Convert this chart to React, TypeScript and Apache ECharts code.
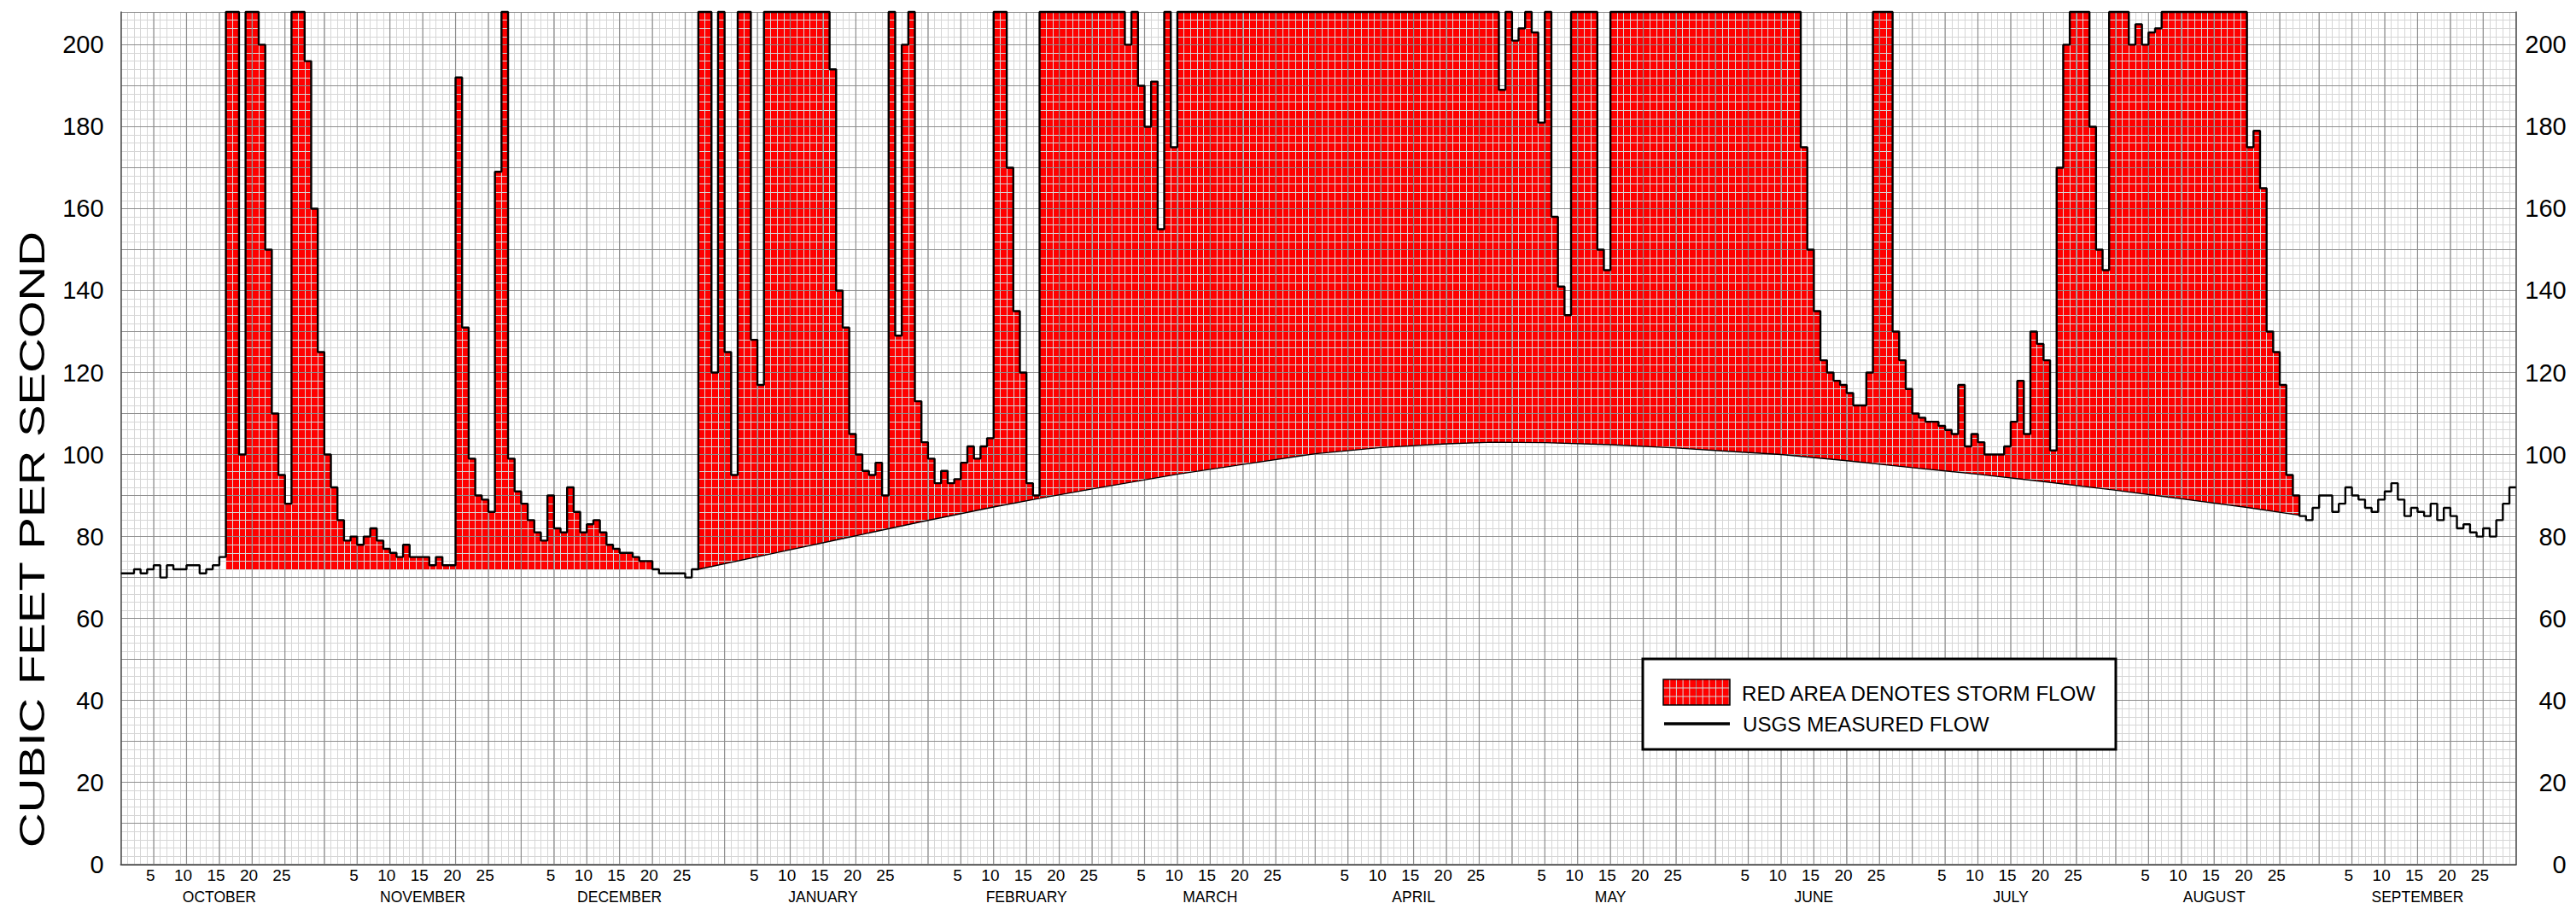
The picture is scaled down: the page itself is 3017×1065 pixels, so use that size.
import React, { useEffect, useRef } from "react";
import * as echarts from "echarts";

// Daily flow above this value runs off the top of the scale.
const OFF = 240;

const MONTH_NAMES = [
  "OCTOBER", "NOVEMBER", "DECEMBER", "JANUARY", "FEBRUARY", "MARCH",
  "APRIL", "MAY", "JUNE", "JULY", "AUGUST", "SEPTEMBER",
];
const MONTH_DAYS = [31, 30, 31, 31, 28, 31, 30, 31, 30, 31, 31, 30];
const DAY_TICKS = [5, 10, 15, 20, 25];
const Y_MAX = 208;

// Daily mean flow, cubic feet per second (water year, Oct 1 – Sep 30)
const OCT_FLOW = [71, 71, 72, 71, 72, 73, 70, 73, 72, 72, 73, 73, 71, 72, 73, 75, OFF, OFF, 100, OFF, OFF, 200, 150, 110, 95, 88, OFF, OFF, 196, 160, 125];
const NOV_FLOW = [100, 92, 84, 79, 80, 78, 80, 82, 79, 77, 76, 75, 78, 75, 75, 75, 73, 75, 73, 73, 192, 131, 99, 90, 89, 86, 169, OFF, 99, 91];
const DEC_FLOW = [88, 84, 81, 79, 90, 82, 81, 92, 86, 81, 83, 84, 81, 78, 77, 76, 76, 75, 74, 74, 72, 71, 71, 71, 71, 70, 72, OFF, OFF, 120, OFF];
const JAN_FLOW = [125, 95, OFF, OFF, 128, 117, OFF, OFF, OFF, OFF, OFF, OFF, OFF, OFF, OFF, OFF, 194, 140, 131, 105, 100, 96, 95, 98, 90, OFF, 129, 200, OFF, 113, 103];
const FEB_FLOW = [99, 93, 96, 93, 94, 98, 102, 99, 102, 104, OFF, OFF, 170, 135, 120, 93, 90, OFF, OFF, OFF, OFF, OFF, OFF, OFF, OFF, OFF, OFF, OFF];
const MAR_FLOW = [OFF, OFF, 200, OFF, 190, 180, 191, 155, OFF, 175, OFF, OFF, OFF, OFF, OFF, OFF, OFF, OFF, OFF, OFF, OFF, OFF, OFF, OFF, OFF, OFF, OFF, OFF, OFF, OFF, OFF];
const APR_FLOW = [OFF, OFF, OFF, OFF, OFF, OFF, OFF, OFF, OFF, OFF, OFF, OFF, OFF, OFF, OFF, OFF, OFF, OFF, OFF, OFF, OFF, OFF, OFF, OFF, OFF, OFF, OFF, OFF, 189, OFF];
const MAY_FLOW = [201, 204, OFF, 203, 181, OFF, 158, 141, 134, OFF, OFF, OFF, OFF, 150, 145, OFF, OFF, OFF, OFF, OFF, OFF, OFF, OFF, OFF, OFF, OFF, OFF, OFF, OFF, OFF, OFF];
const JUN_FLOW = [OFF, OFF, OFF, OFF, OFF, OFF, OFF, OFF, OFF, OFF, OFF, OFF, OFF, 175, 150, 135, 123, 120, 118, 117, 115, 112, 112, 120, OFF, OFF, OFF, 130, 123, 116];
const JUL_FLOW = [110, 109, 108, 108, 107, 106, 105, 117, 102, 105, 103, 100, 100, 100, 102, 108, 118, 105, 130, 127, 123, 101, 170, 200, OFF, OFF, OFF, 180, 150, 145, OFF];
const AUG_FLOW = [OFF, OFF, 200, 205, 200, 203, 204, OFF, OFF, OFF, OFF, OFF, OFF, OFF, OFF, OFF, OFF, OFF, OFF, OFF, 175, 179, 165, 130, 125, 117, 95, 90, 85, 84, 87];
const SEP_FLOW = [90, 90, 86, 88, 92, 90, 89, 87, 86, 89, 91, 93, 89, 85, 87, 86, 85, 88, 84, 87, 85, 82, 83, 81, 80, 82, 80, 84, 88, 92];

const FLOW = [
  ...OCT_FLOW, ...NOV_FLOW, ...DEC_FLOW, ...JAN_FLOW, ...FEB_FLOW, ...MAR_FLOW,
  ...APR_FLOW, ...MAY_FLOW, ...JUN_FLOW, ...JUL_FLOW, ...AUG_FLOW, ...SEP_FLOW,
];

// Base flow under each storm period: [day boundary, cfs]
const FALL_BASE_FLOW = [[16, 72], [81, 72]];
const WINTER_SPRING_BASE_FLOW = [
  [88, 72.0], [100, 76.1], [110, 79.5], [122, 83.6], [133, 87.2], [140, 89.3],
  [148, 91.6], [161, 95.2], [171, 97.6], [182, 100.2], [192, 101.7], [202, 102.6],
  [209, 103.0], [217, 102.9], [227, 102.4], [237, 101.6], [245, 100.8], [253, 100.0],
  [263, 98.5], [273, 96.8], [283, 95.2], [293, 93.4], [304, 91.3], [314, 89.2],
  [324, 87.1], [332, 85.2],
];
const STORM_BASES = [FALL_BASE_FLOW, WINTER_SPRING_BASE_FLOW];

const FONT = '"Liberation Sans", Arial, Helvetica, sans-serif';
const MINOR_GRID = "#d6d6d6";
const MAJOR_GRID = "#8e8e8e";

// Calendar helpers built from the month lengths
const MONTH_STARTS: number[] = [];
MONTH_DAYS.reduce((acc, n) => {
  MONTH_STARTS.push(acc);
  return acc + n;
}, 0);
const DAY_OF_MONTH: number[] = [];
MONTH_DAYS.forEach((n) => {
  for (let i = 1; i <= n; i++) DAY_OF_MONTH.push(i);
});
const N_DAYS = DAY_OF_MONTH.length;
const MONTH_LABEL_AT: Record<number, string> = {};
MONTH_STARTS.forEach((s, m) => {
  MONTH_LABEL_AT[s + 15] = MONTH_NAMES[m];
});
const MAJOR_DAY_LINES: number[] = [];
MONTH_STARTS.forEach((s) => {
  MAJOR_DAY_LINES.push(s, ...DAY_TICKS.map((d) => s + d));
});
MAJOR_DAY_LINES.push(N_DAYS);

const clampTop = (v: number) => Math.min(v, Y_MAX);

function buildOption(): any {
  const dayCats = DAY_OF_MONTH.map((_, i) => String(i));
  const boundaryCats = Array.from({ length: N_DAYS + 1 }, (_, i) => String(i));

  const stepData = FLOW.map((v, d) => [d, clampTop(v)]);
  stepData.push([N_DAYS, clampTop(FLOW[N_DAYS - 1])]);

  const swatchX = 1948;
  const swatchY = 796;
  const swatchW = 78;
  const swatchH = 30;
  const swatchLines: any[] = [];
  for (let k = 1; k * 7.7 < swatchW; k++) {
    swatchLines.push({
      type: "line",
      z: 12,
      shape: { x1: swatchX + k * 7.7, y1: swatchY, x2: swatchX + k * 7.7, y2: swatchY + swatchH },
      style: { stroke: k % 5 === 0 ? MAJOR_GRID : MINOR_GRID, lineWidth: 1 },
    });
  }
  [10, 20].forEach((dy) => {
    swatchLines.push({
      type: "line",
      z: 12,
      shape: { x1: swatchX, y1: swatchY + dy, x2: swatchX + swatchW, y2: swatchY + dy },
      style: { stroke: MINOR_GRID, lineWidth: 1 },
    });
  });

  return {
    animation: false,
    backgroundColor: "#ffffff",
    textStyle: { fontFamily: FONT },
    grid: {
      left: 141.6,
      right: 70.3,
      top: 14,
      bottom: 52.3,
      containLabel: false,
      outerBoundsMode: "none",
    },
    xAxis: [
      {
        type: "value",
        min: 0,
        max: N_DAYS,
        interval: 1,
        position: "bottom",
        z: 2,
        axisLabel: { show: false },
        axisTick: { show: false },
        axisLine: { show: true, onZero: false, lineStyle: { color: "#222", width: 2 } },
        splitLine: { show: true, lineStyle: { color: MINOR_GRID, width: 1 } },
      },
      {
        type: "category",
        data: dayCats,
        boundaryGap: true,
        position: "bottom",
        axisLine: { show: false },
        axisTick: { show: false },
        splitLine: { show: false },
        axisLabel: {
          interval: (i: number) => DAY_TICKS.includes(DAY_OF_MONTH[i]),
          formatter: (v: string) => String(DAY_OF_MONTH[Number(v)]),
          fontSize: 19,
          margin: 3,
          color: "#000",
          fontFamily: FONT,
        },
      },
      {
        type: "category",
        data: boundaryCats,
        boundaryGap: false,
        position: "bottom",
        offset: 26,
        axisLine: { show: false },
        axisTick: { show: false },
        splitLine: { show: false },
        axisLabel: {
          interval: (i: number) => MONTH_LABEL_AT[i] !== undefined,
          formatter: (v: string) => MONTH_LABEL_AT[Number(v)] || "",
          fontSize: 17.5,
          margin: 3,
          color: "#000",
          fontFamily: FONT,
        },
      },
    ],
    yAxis: [
      {
        type: "value",
        min: 0,
        max: Y_MAX,
        interval: 10,
        position: "left",
        z: 3,
        axisLine: { show: true, onZero: false, lineStyle: { color: "#555", width: 1.5 } },
        axisTick: { show: false },
        axisLabel: {
          formatter: (v: number) => (v % 20 === 0 ? String(v) : ""),
          fontSize: 29,
          margin: 20,
          color: "#000",
          fontFamily: FONT,
        },
        splitLine: { show: true, lineStyle: { color: MAJOR_GRID, width: 1.2 } },
      },
      {
        type: "value",
        min: 0,
        max: Y_MAX,
        interval: 10,
        position: "right",
        z: 3,
        axisLine: { show: true, onZero: false, lineStyle: { color: "#555", width: 1.5 } },
        axisTick: { show: false },
        axisLabel: {
          formatter: (v: number) => (v % 20 === 0 ? String(v) : ""),
          fontSize: 29,
          margin: 59,
          align: "right",
          color: "#000",
          fontFamily: FONT,
        },
        splitLine: { show: false },
      },
      {
        type: "value",
        min: 0,
        max: Y_MAX,
        interval: 2,
        position: "left",
        z: 2,
        axisLine: { show: false },
        axisTick: { show: false },
        axisLabel: { show: false },
        splitLine: { show: true, lineStyle: { color: MINOR_GRID, width: 1 } },
      },
    ],
    series: [
      {
        // storm flow: area between the daily flow and the base flow
        type: "custom",
        name: "storm flow",
        xAxisIndex: 0,
        yAxisIndex: 0,
        z: 1,
        silent: true,
        clip: true,
        data: STORM_BASES.map((b, i) => [b[0][0], b[b.length - 1][0], i]),
        encode: { x: [0, 1] },
        renderItem: (params: any, api: any) => {
          const base = STORM_BASES[params.dataIndex];
          const start = base[0][0];
          const end = base[base.length - 1][0];
          const pts: number[][] = [];
          for (let d = start; d < end; d++) {
            const v = clampTop(FLOW[d]);
            pts.push(api.coord([d, v]), api.coord([d + 1, v]));
          }
          for (let k = base.length - 1; k >= 0; k--) pts.push(api.coord(base[k]));
          return {
            type: "polygon",
            shape: { points: pts },
            style: { fill: "#ff0000", stroke: null },
          };
        },
      },
      {
        // 5-day and month grid lines
        type: "custom",
        name: "day grid",
        xAxisIndex: 0,
        yAxisIndex: 0,
        z: 3,
        silent: true,
        data: MAJOR_DAY_LINES.map((b) => [b]),
        encode: { x: 0 },
        renderItem: (_params: any, api: any) => {
          const b = api.value(0);
          const p0 = api.coord([b, Y_MAX]);
          const p1 = api.coord([b, 0]);
          return {
            type: "line",
            shape: { x1: p0[0], y1: p0[1], x2: p1[0], y2: p1[1] },
            style: { stroke: MAJOR_GRID, lineWidth: 1.2 },
          };
        },
      },
      {
        type: "line",
        name: "base flow",
        xAxisIndex: 0,
        yAxisIndex: 0,
        z: 4,
        silent: true,
        symbol: "none",
        data: WINTER_SPRING_BASE_FLOW,
        lineStyle: { color: "#000", width: 1.4 },
      },
      {
        type: "line",
        name: "USGS MEASURED FLOW",
        xAxisIndex: 0,
        yAxisIndex: 0,
        z: 5,
        silent: true,
        step: "end",
        symbol: "none",
        clip: false,
        data: stepData,
        lineStyle: { color: "#000", width: 2.4 },
      },
    ],
    graphic: [
      {
        type: "text",
        x: 37,
        y: 632,
        rotation: Math.PI / 2,
        scaleX: 1.31,
        z: 10,
        style: {
          text: "CUBIC FEET PER SECOND",
          fontSize: 43,
          fontFamily: FONT,
          fill: "#000",
          align: "center",
          verticalAlign: "middle",
        },
      },
      {
        type: "rect",
        z: 10,
        shape: { x: 1924, y: 772, width: 554, height: 106 },
        style: { fill: "#fff", stroke: "#000", lineWidth: 3 },
      },
      {
        type: "rect",
        z: 11,
        shape: { x: swatchX, y: swatchY, width: swatchW, height: swatchH },
        style: { fill: "#ff0000", stroke: null },
      },
      ...swatchLines,
      {
        type: "rect",
        z: 13,
        shape: { x: swatchX, y: swatchY, width: swatchW, height: swatchH },
        style: { fill: "none", stroke: "#000", lineWidth: 1.5 },
      },
      {
        type: "line",
        z: 11,
        shape: { x1: 1949, y1: 848, x2: 2026, y2: 848 },
        style: { stroke: "#000", lineWidth: 3.5 },
      },
      {
        type: "text",
        z: 11,
        x: 2040,
        y: 813.5,
        scaleX: 1.05,
        style: {
          text: "RED AREA DENOTES STORM FLOW",
          fontSize: 23,
          fontFamily: FONT,
          fill: "#000",
          align: "left",
          verticalAlign: "middle",
        },
      },
      {
        type: "text",
        z: 11,
        x: 2041,
        y: 849,
        scaleX: 1.05,
        style: {
          text: "USGS MEASURED FLOW",
          fontSize: 23,
          fontFamily: FONT,
          fill: "#000",
          align: "left",
          verticalAlign: "middle",
        },
      },
    ],
  };
}

export default function App() {
  const ref = useRef<HTMLDivElement>(null);

  useEffect(() => {
    if (!ref.current) return;
    const chart = echarts.init(ref.current, undefined, { renderer: "svg" });
    chart.setOption(buildOption());
    return () => chart.dispose();
  }, []);

  return (
    <div
      ref={ref}
      style={{
        position: "fixed",
        left: 0,
        top: 0,
        width: 3017,
        height: 1065,
        background: "#fff",
      }}
    />
  );
}
